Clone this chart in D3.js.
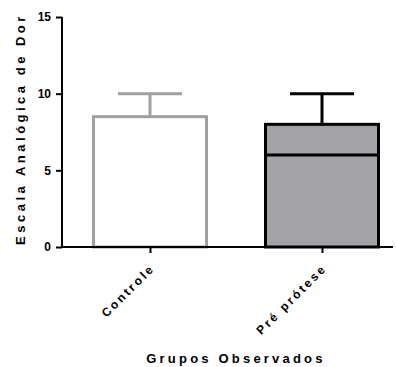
<!DOCTYPE html>
<html>
<head>
<meta charset="utf-8">
<script src="https://cdn.jsdelivr.net/npm/d3@7"></script>
<style>
  body { margin: 0; background: #fff; }
  text { font-family: "Liberation Sans", Arial, sans-serif; font-weight: bold; }
</style>
</head>
<body>
<svg width="396" height="367"></svg>
<script>
const categories = ['Controle', 'Pré prótese'];
const means = [8.5, 8];
const upper = [10, 10];
const medians = [null, 6];
const yTicks = [0, 5, 10, 15];
const strokes = ['#a0a0a0', '#000'];
const fills = ['#fff', '#a3a2a6'];

const svg = d3.select('svg');
const width = 396, height = 367;

const y = d3.scaleLinear().domain([0, 15]).range([247, 17]);
const x = d3.scalePoint().domain(categories).range([150, 322]);
const barW = 113;
const capW = 64;

// y axis
const yAxis = svg.append('g')
  .attr('transform', 'translate(62,0)')
  .call(d3.axisLeft(y).tickValues(yTicks).tickSize(6).tickPadding(5));
yAxis.select('.domain').attr('stroke-width', 2).attr('d', `M0,${y(15)}V${y(0)}`);
yAxis.selectAll('.tick line').attr('stroke-width', 2);
yAxis.selectAll('.tick text').attr('font-size', 12).attr('fill', '#000');

// bars
const g = svg.append('g');
categories.forEach((c, i) => {
  const cx = x(c);
  // error bar
  g.append('line')
    .attr('x1', cx).attr('x2', cx)
    .attr('y1', y(means[i])).attr('y2', y(upper[i]))
    .attr('stroke', strokes[i]).attr('stroke-width', 3);
  g.append('line')
    .attr('x1', cx - capW / 2).attr('x2', cx + capW / 2)
    .attr('y1', y(upper[i])).attr('y2', y(upper[i]))
    .attr('stroke', strokes[i]).attr('stroke-width', 3);
  g.append('rect')
    .attr('x', cx - barW / 2).attr('width', barW)
    .attr('y', y(means[i])).attr('height', y(0) - y(means[i]))
    .attr('fill', fills[i]).attr('stroke', strokes[i]).attr('stroke-width', 3);
  if (medians[i] != null) {
    g.append('line')
      .attr('x1', cx - barW / 2).attr('x2', cx + barW / 2)
      .attr('y1', y(medians[i])).attr('y2', y(medians[i]))
      .attr('stroke', strokes[i]).attr('stroke-width', 3);
  }
});

// x axis
const xAxis = svg.append('g')
  .attr('transform', `translate(0,${y(0)})`)
  .call(d3.axisBottom(x).tickSize(6).tickSizeOuter(0));
xAxis.select('.domain').attr('stroke-width', 2).attr('d', 'M62,0H393');
xAxis.selectAll('.tick line').attr('stroke-width', 2);
xAxis.selectAll('.tick text')
  .attr('font-size', 12)
  .attr('fill', '#000')
  .attr('letter-spacing', 2.5)
  .attr('text-anchor', 'end')
  .attr('dy', 0)
  .attr('transform', 'translate(5,22) rotate(-45)')
  .attr('y', 0).attr('x', 0);

// axis titles
svg.append('text')
  .attr('x', 236).attr('y', 363)
  .attr('text-anchor', 'middle')
  .attr('font-size', 13)
  .attr('letter-spacing', 3.2)
  .text('Grupos Observados');

svg.append('text')
  .attr('transform', 'translate(25,129) rotate(-90)')
  .attr('text-anchor', 'middle')
  .attr('font-size', 13)
  .attr('letter-spacing', 3.5)
  .text('Escala Analógica de Dor');
</script>
</body>
</html>
